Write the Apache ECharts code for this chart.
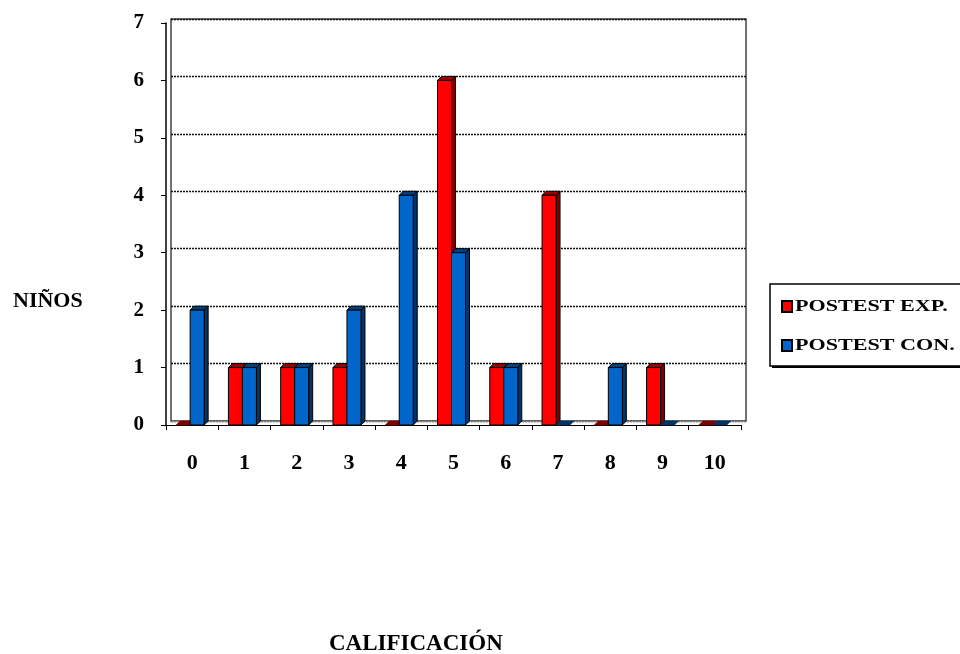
<!DOCTYPE html>
<html>
<head>
<meta charset="utf-8">
<script src="https://cdn.jsdelivr.net/npm/echarts@6/dist/echarts.min.js"></script>
<style>
  html, body { margin: 0; padding: 0; background: #fff; }
  #chart { width: 960px; height: 654px; }
</style>
</head>
<body>
<div id="chart"></div>
<script>
// Score distribution: number of children per grade (0-10)
const categories = ['0', '1', '2', '3', '4', '5', '6', '7', '8', '9', '10'];
const postestExp = [0, 1, 1, 1, 0, 6, 1, 4, 0, 1, 0];
const postestCon = [2, 1, 1, 2, 4, 3, 1, 0, 1, 0, 0];
const seriesNames = ['POSTEST EXP.', 'POSTEST CON.'];
const yMin = 0, yMax = 7, yStep = 1;

const FONT = '"Liberation Serif", "Times New Roman", serif';
const DX = 4, DY = 4, BAR_W = 14;

const palette = {
  exp: { face: '#ff0000', side: '#800000', top: '#9a0000' },
  con: { face: '#0066cc', side: '#003366', top: '#00407f' }
};

// Pseudo-3D column: front face, right side and top, extruded up-right
function bar3D(offset, c) {
  return function (params, api) {
    const i = api.value(0), v = api.value(1);
    const base = api.coord([i, 0]);
    const top = api.coord([i, v]);
    const x0 = base[0] + offset, x1 = x0 + BAR_W;
    const yb = base[1], yt = top[1];
    const line = { stroke: '#000', lineWidth: 1 };
    const children = [];
    if (v > 0) {
      children.push({ type: 'polygon', shape: { points: [[x1, yt], [x1 + DX, yt - DY], [x1 + DX, yb - DY], [x1, yb]] }, style: Object.assign({ fill: c.side }, line) });
      children.push({ type: 'polygon', shape: { points: [[x0, yt], [x0 + DX, yt - DY], [x1 + DX, yt - DY], [x1, yt]] }, style: Object.assign({ fill: c.top }, line) });
      children.push({ type: 'rect', shape: { x: x0, y: yt, width: BAR_W, height: yb - yt }, style: Object.assign({ fill: c.face }, line) });
    } else {
      children.push({ type: 'polygon', shape: { points: [[x0, yb], [x0 + DX, yb - DY], [x1 + DX, yb - DY], [x1, yb]] }, style: { fill: c.side, stroke: c.side, lineWidth: 0.5 } });
    }
    return { type: 'group', children: children };
  };
}

const chart = echarts.init(document.getElementById('chart'), null, { renderer: 'canvas' });

const legendRow = (y, color, text) => ([
  { type: 'rect', shape: { x: 782, y: y - 6, width: 10, height: 11 }, style: { fill: color, stroke: '#000', lineWidth: 2 } },
  { type: 'text', x: 795, y: y, scaleX: 1.3, style: { text: text, font: 'bold 17px ' + FONT, fill: '#000', verticalAlign: 'middle' } }
]);

chart.setOption({
  animation: false,
  backgroundColor: '#fff',
  grid: [
    { left: 166, right: 219, top: 23, bottom: 229 },
    { left: 171, right: 214, top: 19, bottom: 233, show: true, borderColor: '#444', borderWidth: 1.5, z: 0 }
  ],
  xAxis: [
    {
      gridIndex: 0, type: 'category', data: categories, boundaryGap: true,
      axisLine: { lineStyle: { color: '#000', width: 1 } },
      axisTick: { show: true, length: 5, lineStyle: { color: '#000' } },
      axisLabel: { margin: 27, color: '#000', fontFamily: FONT, fontWeight: 'bold', fontSize: 22 }
    },
    {
      gridIndex: 1, type: 'category', data: categories, boundaryGap: true,
      axisLine: { lineStyle: { color: '#888', width: 1 } },
      axisTick: { show: false }, axisLabel: { show: false }
    }
  ],
  yAxis: [
    {
      gridIndex: 0, type: 'value', min: yMin, max: yMax, interval: yStep,
      axisLine: { show: true, lineStyle: { color: '#000', width: 1.5 } },
      axisTick: { show: true, length: 5, lineStyle: { color: '#000' } },
      splitLine: { show: false },
      axisLabel: { margin: 22, color: '#000', fontFamily: FONT, fontWeight: 'bold', fontSize: 21 }
    },
    {
      gridIndex: 1, type: 'value', min: yMin, max: yMax, interval: yStep,
      axisLine: { show: false }, axisTick: { show: false }, axisLabel: { show: false },
      splitLine: { show: true, lineStyle: { color: '#111', width: 1.3, type: [2, 1] } }
    }
  ],
  series: [
    {
      name: seriesNames[0], type: 'custom', xAxisIndex: 0, yAxisIndex: 0,
      renderItem: bar3D(-16, palette.exp),
      encode: { x: 0, y: 1 },
      data: postestExp.map((v, i) => [i, v])
    },
    {
      name: seriesNames[1], type: 'custom', xAxisIndex: 0, yAxisIndex: 0,
      renderItem: bar3D(-2, palette.con),
      encode: { x: 0, y: 1 },
      data: postestCon.map((v, i) => [i, v])
    }
  ],
  graphic: [
    { type: 'text', left: 13, top: 290, style: { text: 'NIÑOS', font: 'bold 22px ' + FONT, fill: '#000' } },
    { type: 'text', left: 329, top: 633, style: { text: 'CALIFICACIÓN', font: 'bold 23px ' + FONT, fill: '#000' } },
    {
      type: 'group', children: [
        { type: 'rect', shape: { x: 772, y: 286, width: 200, height: 82 }, style: { fill: '#000' } },
        { type: 'rect', shape: { x: 770, y: 284, width: 200, height: 82 }, style: { fill: '#fff', stroke: '#000', lineWidth: 1.5 } }
      ].concat(legendRow(307, palette.exp.face, seriesNames[0]), legendRow(346, palette.con.face, seriesNames[1]))
    }
  ]
});
</script>
</body>
</html>
